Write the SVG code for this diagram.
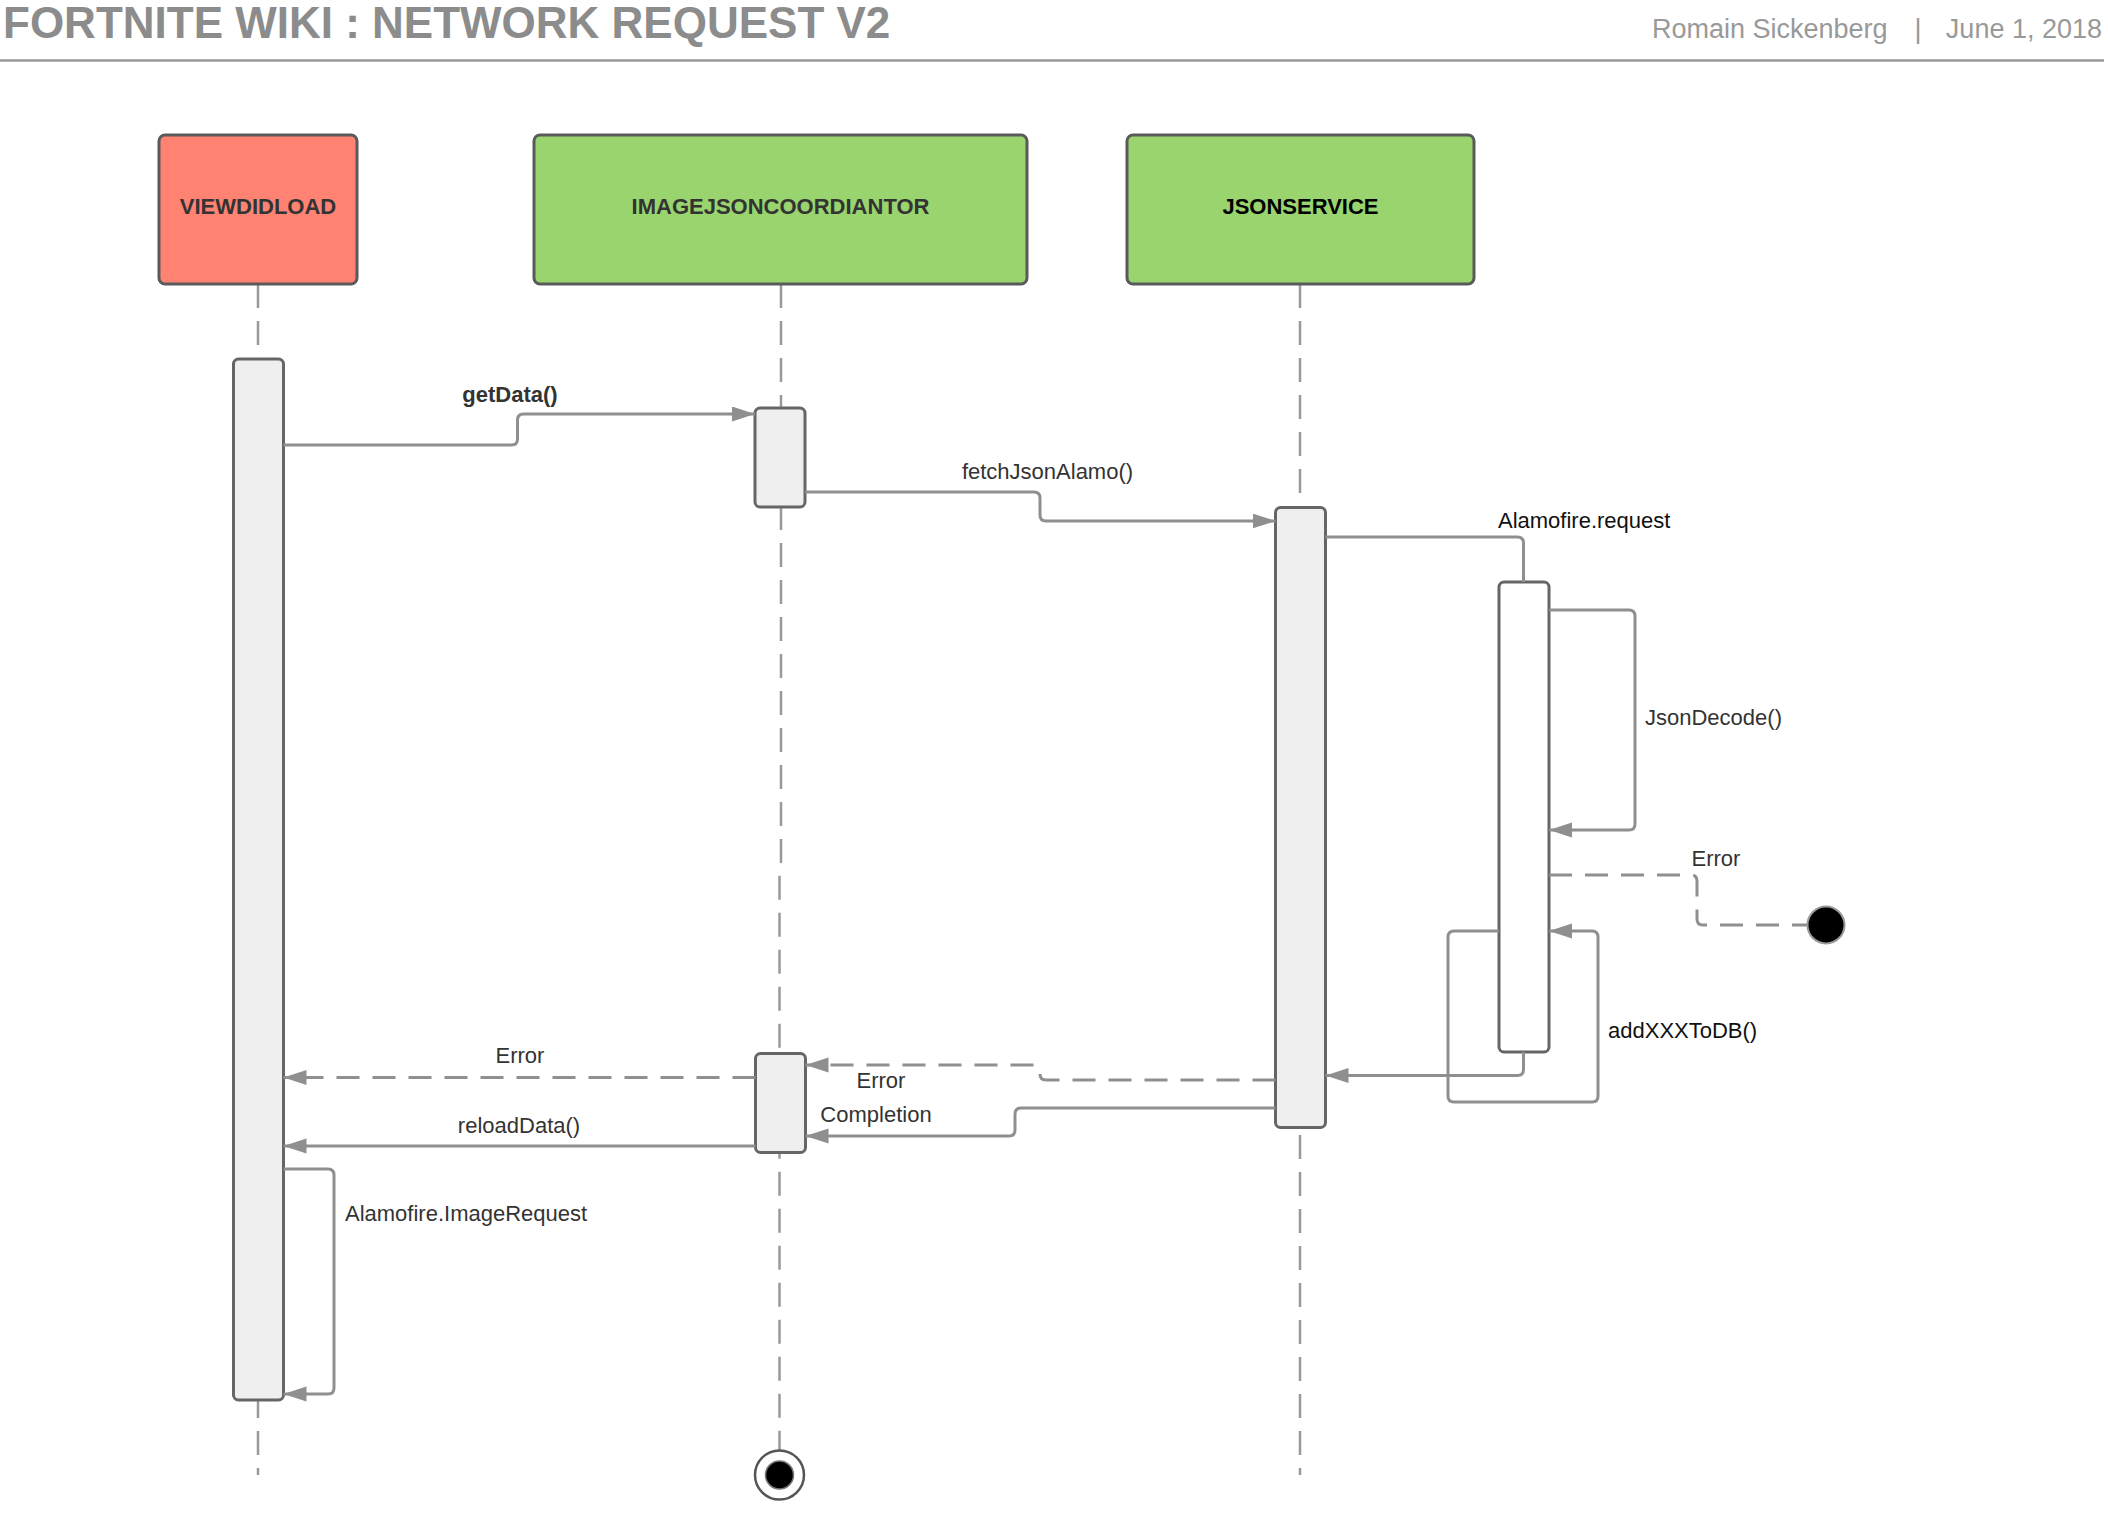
<svg xmlns="http://www.w3.org/2000/svg" width="2108" height="1532" viewBox="0 0 2108 1532">
<style>
text{font-family:"Liberation Sans",Arial,sans-serif}
.hdr{fill:#999;font-size:27px}
.title{fill:#8c8c8c;font-size:44px;font-weight:bold}
.box{stroke:#5a5a5a;stroke-width:3}
.blabel{font-size:22px;font-weight:bold;text-anchor:middle}
.life{stroke:#999;stroke-width:2.5;stroke-dasharray:24 13;fill:none}
.bar{fill:#efefef;stroke:#666;stroke-width:3}
.conn{fill:none;stroke:#8f8f8f;stroke-width:3}
.dash{stroke-dasharray:23 13}
.lbl{font-size:22px;fill:#333}
.mid{text-anchor:middle}
</style>
<defs>
<marker id="arr" markerUnits="userSpaceOnUse" markerWidth="24" markerHeight="16" refX="23" refY="7.5" orient="auto">
<path d="M0,0 L23,7.5 L0,15 z" fill="#8f8f8f"/>
</marker>
</defs>
<rect width="2108" height="1532" fill="#fff"/>
<g id="header">
<text class="title" x="3" y="38">FORTNITE WIKI : NETWORK REQUEST V2</text>
<text class="hdr" x="1652" y="38">Romain Sickenberg</text>
<text class="hdr" x="1918" y="38" text-anchor="middle">|</text>
<text class="hdr" x="2102" y="38" text-anchor="end">June 1, 2018</text>
<line x1="0" y1="60.5" x2="2104" y2="60.5" stroke="#999" stroke-width="2.5"/>
</g>
<g id="lifelines">
<line class="life" x1="258" y1="284" x2="258" y2="1475"/>
<path class="life" d="M781,284 V862 L779.5,868 V1450"/>
<line class="life" x1="1300" y1="284" x2="1300" y2="1475"/>
</g>
<g id="viewdidload">
<rect class="box" x="159" y="135" width="198" height="149" rx="6" fill="#ff8272"/>
<text class="blabel" x="258" y="213.5" fill="#333">VIEWDIDLOAD</text>
<rect class="bar" x="233.5" y="359" width="50" height="1041" rx="5"/>
</g>
<g id="imagejsoncoordiantor">
<rect class="box" x="534" y="135" width="493" height="149" rx="6" fill="#99d46e"/>
<text class="blabel" x="780.5" y="213.5" fill="#333">IMAGEJSONCOORDIANTOR</text>
<rect class="bar" x="755" y="408" width="50" height="99" rx="5"/>
<rect class="bar" x="755.5" y="1053.5" width="50" height="99" rx="5"/>
</g>
<g id="jsonservice">
<rect class="box" x="1127" y="135" width="347" height="149" rx="6" fill="#99d46e"/>
<text class="blabel" x="1300.5" y="213.5" fill="#000">JSONSERVICE</text>
<rect class="bar" x="1275.5" y="507.5" width="50" height="620" rx="5"/>
</g>
<g id="alamofire">
<rect class="bar" x="1499" y="582" width="50" height="470" rx="5" style="fill:#fff"/>
</g>
<g id="connectors">
<path class="conn" marker-end="url(#arr)" d="M283.5,445 H511.5 Q517.5,445 517.5,439 V420 Q517.5,414 523.5,414 H755"/>
<path class="conn" marker-end="url(#arr)" d="M805,492 H1034 Q1040,492 1040,498 V515 Q1040,521 1046,521 H1275.5"/>
<path class="conn" d="M1325.5,537 H1517.5 Q1523.5,537 1523.5,543 V582"/>
<path class="conn" marker-end="url(#arr)" d="M1549,610 H1629 Q1635,610 1635,616 V824 Q1635,830 1629,830 H1549"/>
<path class="conn dash" d="M1549,875 H1691 Q1697,875 1697,881 V919 Q1697,925 1703,925 H1807"/>
<path class="conn" marker-end="url(#arr)" d="M1499,931 H1454 Q1448,931 1448,937 V1096 Q1448,1102 1454,1102 H1592 Q1598,1102 1598,1096 V937 Q1598,931 1592,931 H1549"/>
<path class="conn" marker-end="url(#arr)" d="M1523.5,1052 V1069.5 Q1523.5,1075.5 1517.5,1075.5 H1325.5"/>
<path class="conn dash" marker-end="url(#arr)" d="M1275.5,1080 H1046 Q1040,1080 1040,1074 V1071 Q1040,1065 1034,1065 H805.5"/>
<path class="conn" marker-end="url(#arr)" d="M1275.5,1108 H1021 Q1015,1108 1015,1114 V1130 Q1015,1136 1009,1136 H805.5"/>
<path class="conn dash" marker-end="url(#arr)" d="M755.5,1077.5 H283.5"/>
<path class="conn" marker-end="url(#arr)" d="M755.5,1146 H283.5"/>
<path class="conn" marker-end="url(#arr)" d="M283.5,1169 H328 Q334,1169 334,1175 V1388 Q334,1394 328,1394 H283.5"/>
</g>
<g id="labels">
<text class="lbl mid" x="510" y="402" font-weight="bold">getData()</text>
<text class="lbl mid" x="1047.5" y="479">fetchJsonAlamo()</text>
<text class="lbl" x="1498" y="528" style="fill:#111">Alamofire.request</text>
<text class="lbl" x="1645" y="725">JsonDecode()</text>
<text class="lbl mid" x="1716" y="866">Error</text>
<text class="lbl" x="1608" y="1038" style="fill:#111">addXXXToDB()</text>
<text class="lbl mid" x="881" y="1088">Error</text>
<text class="lbl mid" x="876" y="1122">Completion</text>
<text class="lbl mid" x="520" y="1063">Error</text>
<text class="lbl mid" x="519" y="1133">reloadData()</text>
<text class="lbl" x="345" y="1221">Alamofire.ImageRequest</text>
</g>
<g id="error-end">
<circle cx="1826" cy="925" r="18.5" fill="#000" stroke="#999" stroke-width="2"/>
</g>
<g id="final-end">
<circle cx="779.5" cy="1475" r="24.5" fill="#fff" stroke="#555" stroke-width="2.5"/>
<circle cx="779.5" cy="1475" r="14" fill="#000" stroke="#777" stroke-width="1.5"/>
</g>
</svg>
